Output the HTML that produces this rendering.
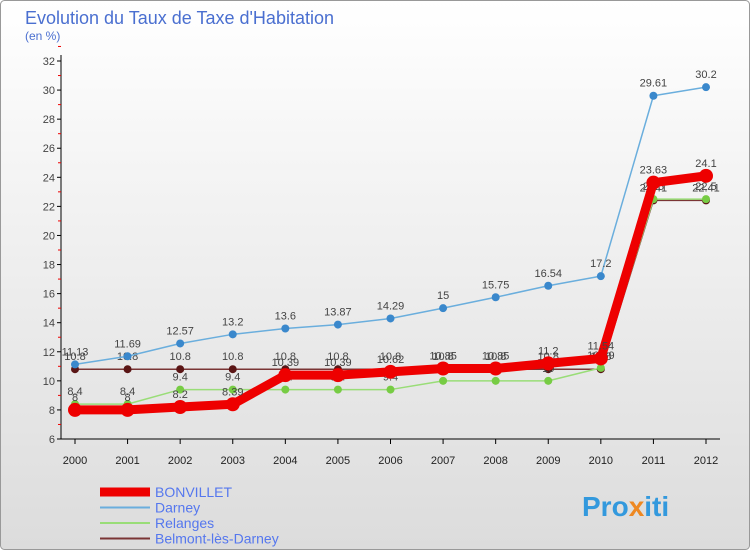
<!DOCTYPE html>
<html><head><meta charset="utf-8"><style>
body{margin:0;width:750px;height:550px;overflow:hidden;font-family:"Liberation Sans",sans-serif}
</style></head><body>
<svg id="c" width="750" height="550" xmlns="http://www.w3.org/2000/svg">
<defs><linearGradient id="bg" x1="0" y1="0" x2="0" y2="1"><stop offset="0" stop-color="#ffffff"/><stop offset="1" stop-color="#dcdcdc"/></linearGradient></defs>
<rect x="0.5" y="0.5" width="749" height="549" rx="4" fill="url(#bg)" stroke="#999"/>
<text x="25" y="24" font-size="18" fill="#4a6fd0">Evolution du Taux de Taxe d'Habitation</text>
<text x="25" y="40" font-size="12" fill="#4a6fd0">(en %)</text>
<g id="axes"></g><g id="series"></g><g id="legend"></g>
<text x="582" y="516" font-size="28" font-weight="bold" fill="#3399dd">Pro<tspan fill="#ee8822">x</tspan>iti</text>
</svg>
<script>
const years=["2000","2001","2002","2003","2004","2005","2006","2007","2008","2009","2010","2011","2012"];
const yTicks=[6,8,10,12,14,16,18,20,22,24,26,28,30,32];
const bonvillet=[8,8,8.2,8.39,10.39,10.39,10.62,10.85,10.85,11.2,11.54,23.63,24.1];
const darney=[11.13,11.69,12.57,13.2,13.6,13.87,14.29,15,15.75,16.54,17.2,29.61,30.2];
const relanges=[8.4,8.4,9.4,9.4,9.4,9.4,9.4,10,10,10,10.89,22.5,22.5];
const belmont=[10.8,10.8,10.8,10.8,10.8,10.8,10.8,10.8,10.8,10.8,10.8,22.41,22.41];
const NS="http://www.w3.org/2000/svg";
const x=i=>75+i*(706-75)/(years.length-1);
const y=v=>439-(v-6)*(439-61)/26;
function mk(t,a,p){const e=document.createElementNS(NS,t);for(const k in a)e.setAttribute(k,a[k]);p.appendChild(e);return e;}
const ax=document.getElementById('axes');
const yl=mk('line',{x1:61,y1:55,x2:61,y2:439,stroke:'#000'},ax);


const xl=mk('line',{x1:61,y1:439,x2:720,y2:439,stroke:'#000'},ax);


yTicks.forEach(v=>{
 mk('line',{x1:57,y1:y(v),x2:61,y2:y(v),stroke:'#000'},ax);
 mk('line',{x1:58,y1:y(v+1),x2:61,y2:y(v+1),stroke:'#e00'},ax);
 const t=mk('text',{x:55,y:y(v)+4,'font-size':11,'text-anchor':'end',fill:'#444'},ax);t.textContent=v;
 
 
});
years.forEach((yr,i)=>{
 mk('line',{x1:x(i),y1:439,x2:x(i),y2:444,stroke:'#000'},ax);
 const t=mk('text',{x:x(i),y:464,'font-size':11,'text-anchor':'middle',fill:'#222'},ax);t.textContent=yr;
 
 
});
const sg=document.getElementById('series');
const series=[
 {name:'belmont',d:belmont,c:'#7a3535',w:1.5,r:4,dc:'#5a1515'},
 {name:'relanges',d:relanges,c:'#99dd77',w:1.5,r:4,dc:'#77cc44'},
 {name:'darney',d:darney,c:'#6aaedd',w:1.5,r:4,dc:'#3a88cc'},
 {name:'bonvillet',d:bonvillet,c:'#ee0000',w:9,r:7,dc:'#ee0000'}];
series.forEach(s=>{
 const g=mk('g',{},sg);
 
 
 const p=mk('polyline',{points:s.d.map((v,i)=>x(i)+','+y(v)).join(' '),fill:'none',stroke:s.c,'stroke-width':s.w,'stroke-linejoin':'round'},g);
 
 
 s.d.forEach((v,i)=>{
  const c=mk('circle',{cx:x(i),cy:y(v),r:s.r,fill:s.dc},g);
  
  
  const t=mk('text',{x:x(i),y:y(v)-9,'font-size':11,'text-anchor':'middle',fill:'#444'},g);t.textContent=v;
  
  
 });
});
const lg=document.getElementById('legend');
[['BONVILLET','#ee0000',9],['Darney','#6aaedd',2],['Relanges','#99dd77',2],['Belmont-lès-Darney','#7a3535',2]].forEach((e,i)=>{
 const yy=492+i*15.5;
 const g=mk('g',{},lg);
 
 
 mk('line',{x1:100,y1:yy,x2:150,y2:yy,stroke:e[1],'stroke-width':e[2]},g);
 const t=mk('text',{x:155,y:yy+5,'font-size':14,fill:'#5577ee'},g);t.textContent=e[0];
});
</script>
</body></html>
